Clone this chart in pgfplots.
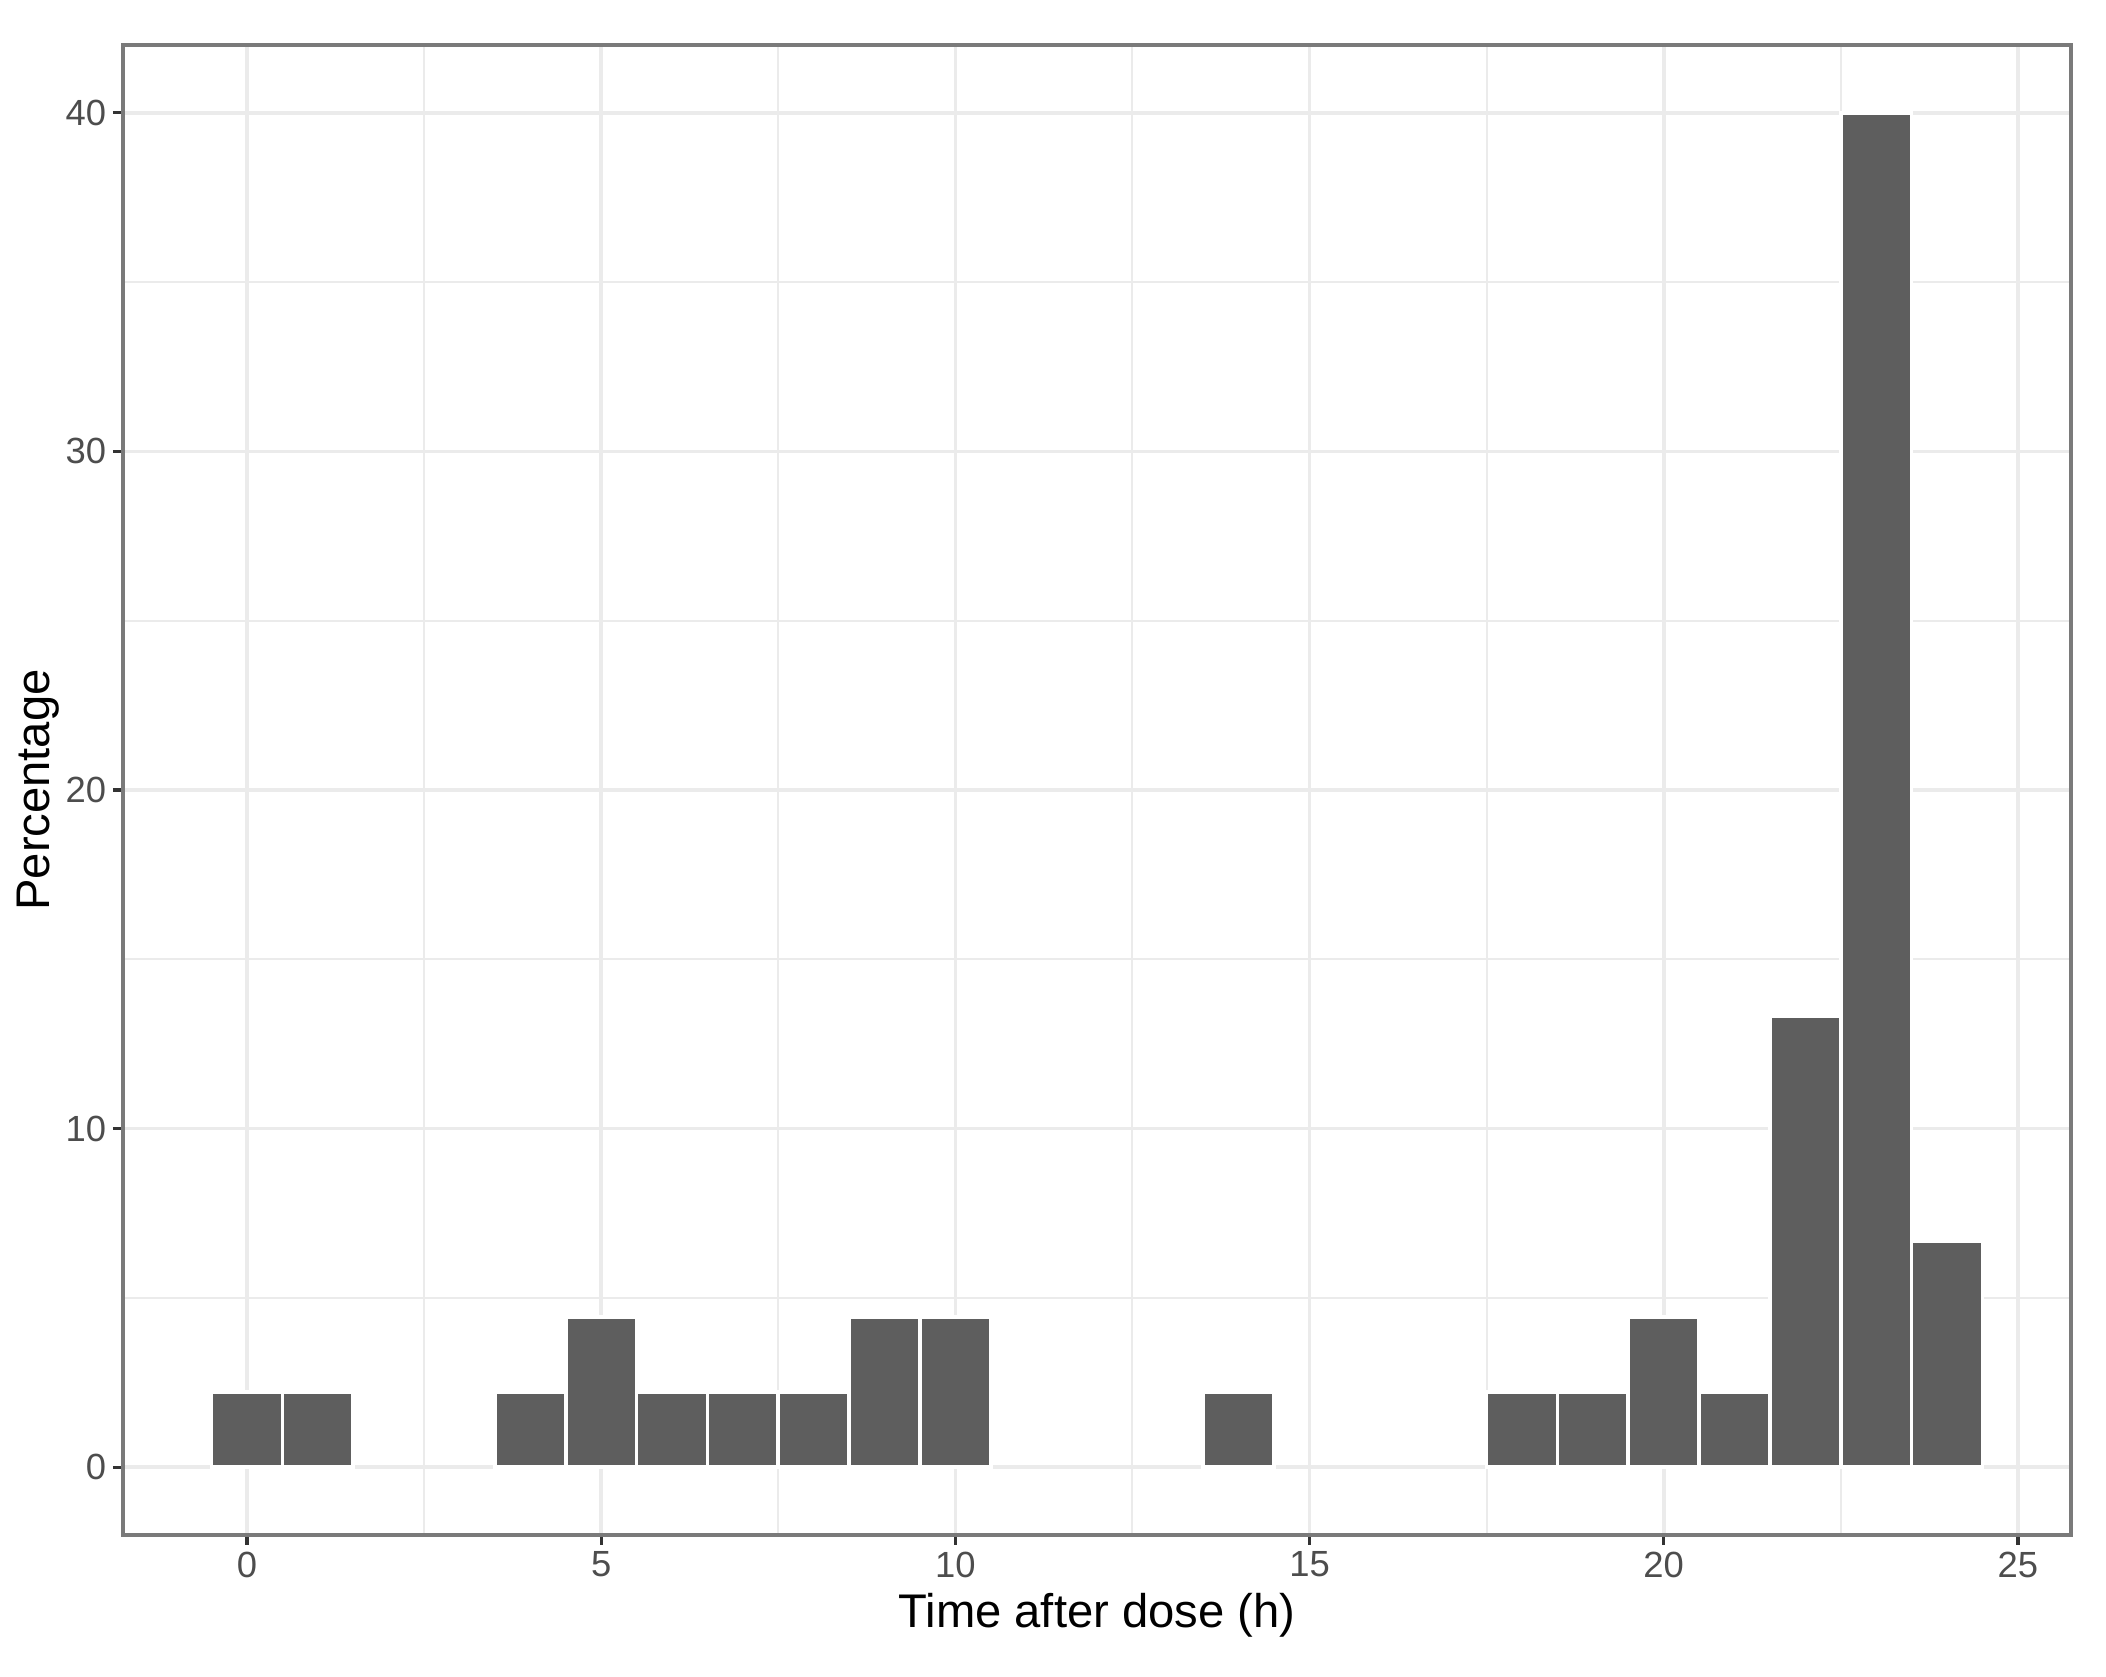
\documentclass[border=0pt]{standalone}
\usepackage{pgfplots}
\pgfplotsset{compat=1.18}
\usepackage{fontspec}
\setmainfont{Liberation Sans}
\definecolor{barfill}{HTML}{5E5E5E}
\definecolor{gridc}{HTML}{EBEBEB}
\definecolor{tickc}{HTML}{333333}
\definecolor{ticklab}{HTML}{4D4D4D}
\definecolor{framec}{HTML}{7A7A7A}
\begin{document}
\begin{tikzpicture}
\begin{axis}[
  scale only axis,
  width=487pt, height=372.5pt,
  xmin=-1.75, xmax=25.75,
  ymin=-2, ymax=42,
  xtick={0,5,10,15,20,25},
  ytick={0,10,20,30,40},
  minor tick num=1,
  minor tick length=0pt,
  major tick length=2.5pt,
  tick align=outside,
  tick pos=left,
  grid=both,
  major grid style={draw=gridc, line width=0.9pt},
  minor grid style={draw=gridc, line width=0.5pt},
  axis line style={draw=framec, line width=0.8pt},
  every tick/.style={draw=tickc, line width=0.8pt},
  /pgf/number format/assume math mode=true,
  tick label style={font=\fontsize{9.1}{10}\selectfont, text=ticklab},
  xticklabel style={inner sep=1.5pt},
  yticklabel style={inner sep=1.5pt},
]
\addplot[ybar, bar width=1, fill=barfill, draw=white, line width=0.9pt]
  coordinates {
  (0,2.2222) (1,2.2222) (4,2.2222) (5,4.4444) (6,2.2222) (7,2.2222)
  (8,2.2222) (9,4.4444) (10,4.4444) (14,2.2222) (18,2.2222) (19,2.2222)
  (20,4.4444) (21,2.2222) (22,13.3333) (23,40) (24,6.6667)
  };
\end{axis}
\node[anchor=base, font=\fontsize{11.8}{13}\selectfont] at ([yshift=-23.25pt]current axis.south) {Time after dose (h)};
\node[anchor=base, rotate=90, font=\fontsize{11.8}{13}\selectfont] at ([xshift=-18.25pt]current axis.west) {Percentage};
\pgfresetboundingbox
\path[use as bounding box] ([shift={(-30.75pt,-35.5pt)}]current axis.south west) rectangle ([shift={(8.75pt,11.25pt)}]current axis.north east);
\end{tikzpicture}
\end{document}
